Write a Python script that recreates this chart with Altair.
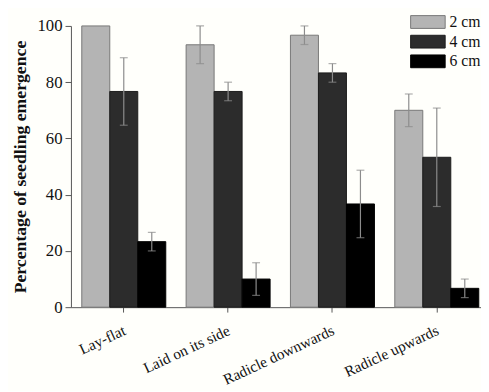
import altair as alt
import pandas as pd

groups = ["Lay-flat", "Laid on its side", "Radicle downwards", "Radicle upwards"]
depths = ["2 cm", "4 cm", "6 cm"]
val_2cm = [100.0, 93.3, 96.7, 70.0]
val_4cm = [76.7, 76.7, 83.3, 53.3]
val_6cm = [23.3, 10.0, 36.7, 6.7]
err_2cm = [0.0, 6.7, 3.3, 5.8]
err_4cm = [12.0, 3.3, 3.3, 17.5]
err_6cm = [3.3, 5.8, 12.0, 3.3]
fill_colors = ["#b4b4b4", "#2c2c2c", "#000000"]
stroke_colors = ["#777777", "#1c1c1c", "#000000"]
y_ticks = [0, 20, 40, 60, 80, 100]

rows = []
for d, vals, errs in zip(depths, [val_2cm, val_4cm, val_6cm], [err_2cm, err_4cm, err_6cm]):
    for g, v, e in zip(groups, vals, errs):
        rows.append({"group": g, "depth": d, "value": v, "err": e,
                     "lo": v - e, "hi": v + e})
df = pd.DataFrame(rows)

FONT = "Liberation Serif"

x_enc = alt.X("group:N", sort=groups,
              scale=alt.Scale(paddingInner=0.195, paddingOuter=0.0626, align=0.83),
              axis=alt.Axis(title=None, labelAngle=-25, labelAlign="right",
                            labelBaseline="top", labelFont=FONT, labelFontSize=15.5,
                            labelColor="#111", labelPadding=11, labelOffset=-2, tickSize=5,
                            tickColor="#555", domainColor="#555", labelLimit=300))
xo_enc = alt.XOffset("depth:N", sort=depths)

base = alt.Chart(df)

bars = base.mark_bar(strokeWidth=1).encode(
    x=x_enc,
    xOffset=xo_enc,
    y=alt.Y("value:Q",
            scale=alt.Scale(domain=[0, 100], nice=False),
            axis=alt.Axis(values=y_ticks, grid=False, title="Percentage of seedling emergence",
                          titleFont=FONT, titleFontSize=18, titleFontWeight="bold",
                          titleColor="#111", titlePadding=8,
                          labelFont=FONT, labelFontSize=17, labelColor="#111",
                          labelPadding=3, tickSize=6, tickColor="#555",
                          domainColor="#555")),
    fill=alt.Fill("depth:N", sort=depths,
                  scale=alt.Scale(domain=depths, range=fill_colors),
                  legend=alt.Legend(title=None, orient="none", legendX=355, legendY=-12,
                                    symbolType="M-2.7,-1H2.7V1H-2.7Z",
                                    symbolSize=169, symbolStrokeColor="#666",
                                    symbolStrokeWidth=1, symbolOpacity=1,
                                    labelFont=FONT, labelFontSize=16, labelColor="#111",
                                    labelOffset=14, rowPadding=2, padding=0)),
    stroke=alt.Stroke("depth:N", sort=depths,
                      scale=alt.Scale(domain=depths, range=stroke_colors), legend=None),
)

err_df_filter = alt.datum.err > 0

rules = base.transform_filter(err_df_filter).mark_rule(color="#8c8c8c", strokeWidth=1.2).encode(
    x=alt.X("group:N", sort=groups),
    xOffset=xo_enc,
    y="lo:Q",
    y2="hi:Q",
)
caps_hi = base.transform_filter(err_df_filter).mark_tick(color="#8c8c8c", thickness=1.2, size=8, orient="horizontal").encode(
    x=alt.X("group:N", sort=groups),
    xOffset=xo_enc,
    y="hi:Q",
)
caps_lo = base.transform_filter(err_df_filter).mark_tick(color="#8c8c8c", thickness=1.2, size=8, orient="horizontal").encode(
    x=alt.X("group:N", sort=groups),
    xOffset=xo_enc,
    y="lo:Q",
)

chart = alt.layer(bars, rules, caps_hi, caps_lo).properties(
    width=417, height=286,
    autosize=alt.AutoSizeParams(type="none"),
    padding={"left": 64, "top": 15, "right": 0, "bottom": 82},
    background="#fffffb",
).configure_view(stroke=None)

chart.save("out.html", embed_options={"renderer": "svg", "actions": False})
